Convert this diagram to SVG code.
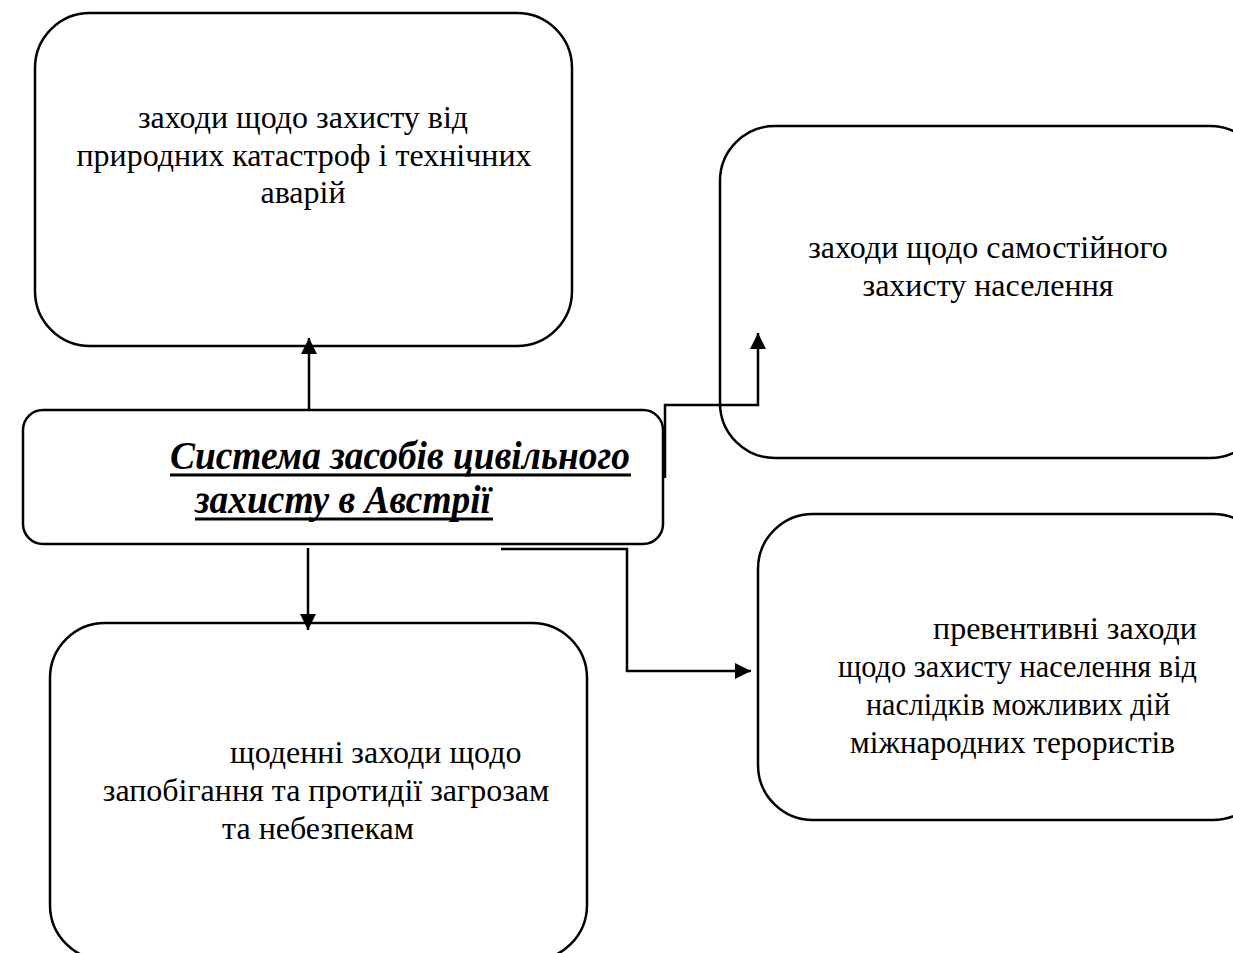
<svg xmlns="http://www.w3.org/2000/svg" width="1233" height="953" viewBox="0 0 1233 953">
<style>
.box{fill:#fff;stroke:#000;stroke-width:2.5}
.t{font-family:"Liberation Serif","Times New Roman",serif;font-size:32px;fill:#000;text-anchor:middle}
.h{font-family:"Liberation Serif","Times New Roman",serif;font-size:40px;font-weight:bold;font-style:italic;fill:#000}
.ul{stroke:#000;stroke-width:3}
.c{fill:none;stroke:#000;stroke-width:2.5}
</style>
<defs>
<marker id="ah" viewBox="0 0 10 10" refX="10" refY="5" markerWidth="16" markerHeight="16" markerUnits="userSpaceOnUse" orient="auto">
<path d="M0,0 L10,5 L0,10 Z" fill="#000"/>
</marker>
</defs>
<g id="node-a">
<rect class="box" x="35" y="13" width="537" height="333" rx="55" ry="55"/>
<text class="t" x="303" y="128">заходи щодо захисту від</text>
<text class="t" x="304" y="166">природних катастроф і технічних</text>
<text class="t" x="303" y="203">аварій</text>
</g>
<g id="node-b">
<rect class="box" x="720" y="126" width="545" height="332" rx="55" ry="55"/>
<text class="t" x="988" y="258">заходи щодо самостійного</text>
<text class="t" x="988" y="296">захисту населення</text>
</g>
<g id="node-d">
<rect class="box" x="758" y="514" width="510" height="306" rx="55" ry="55"/>
<text class="t" x="933" y="639" style="text-anchor:start" textLength="264" lengthAdjust="spacingAndGlyphs">превентивні заходи</text>
<text class="t" x="838" y="677" style="text-anchor:start" textLength="359" lengthAdjust="spacingAndGlyphs">щодо захисту населення від</text>
<text class="t" x="866" y="715" style="text-anchor:start" textLength="304" lengthAdjust="spacingAndGlyphs">наслідків можливих дій</text>
<text class="t" x="850" y="753" style="text-anchor:start" textLength="325" lengthAdjust="spacingAndGlyphs">міжнародних терористів</text>
</g>
<g id="node-c">
<rect class="box" x="50" y="623" width="537" height="337" rx="55" ry="55"/>
<text class="t" x="230" y="763" style="text-anchor:start">щоденні заходи щодо</text>
<text class="t" x="326" y="801">запобігання та протидії загрозам</text>
<text class="t" x="318" y="839">та небезпекам</text>
</g>
<g id="connectors">
<path class="c" d="M309,410 L309,338" marker-end="url(#ah)"/>
<path class="c" d="M665,478 L665,405 L758,405 L758,333" marker-end="url(#ah)"/>
<path class="c" d="M308,548 L308,630" marker-end="url(#ah)"/>
<path class="c" d="M501,549 L627,549 L627,671 L751,671" marker-end="url(#ah)"/>
</g>
<g id="node-center">
<rect class="box" x="23" y="410" width="640" height="134" rx="20" ry="20"/>
<text class="h" x="170" y="469" textLength="460" lengthAdjust="spacingAndGlyphs">Система засобів цивільного</text>
<line class="ul" x1="170" y1="475" x2="631" y2="475"/>
<text class="h" x="195" y="513" textLength="296" lengthAdjust="spacingAndGlyphs">захисту в Австрії</text>
<line class="ul" x1="195" y1="519" x2="493" y2="519"/>
</g>
</svg>
